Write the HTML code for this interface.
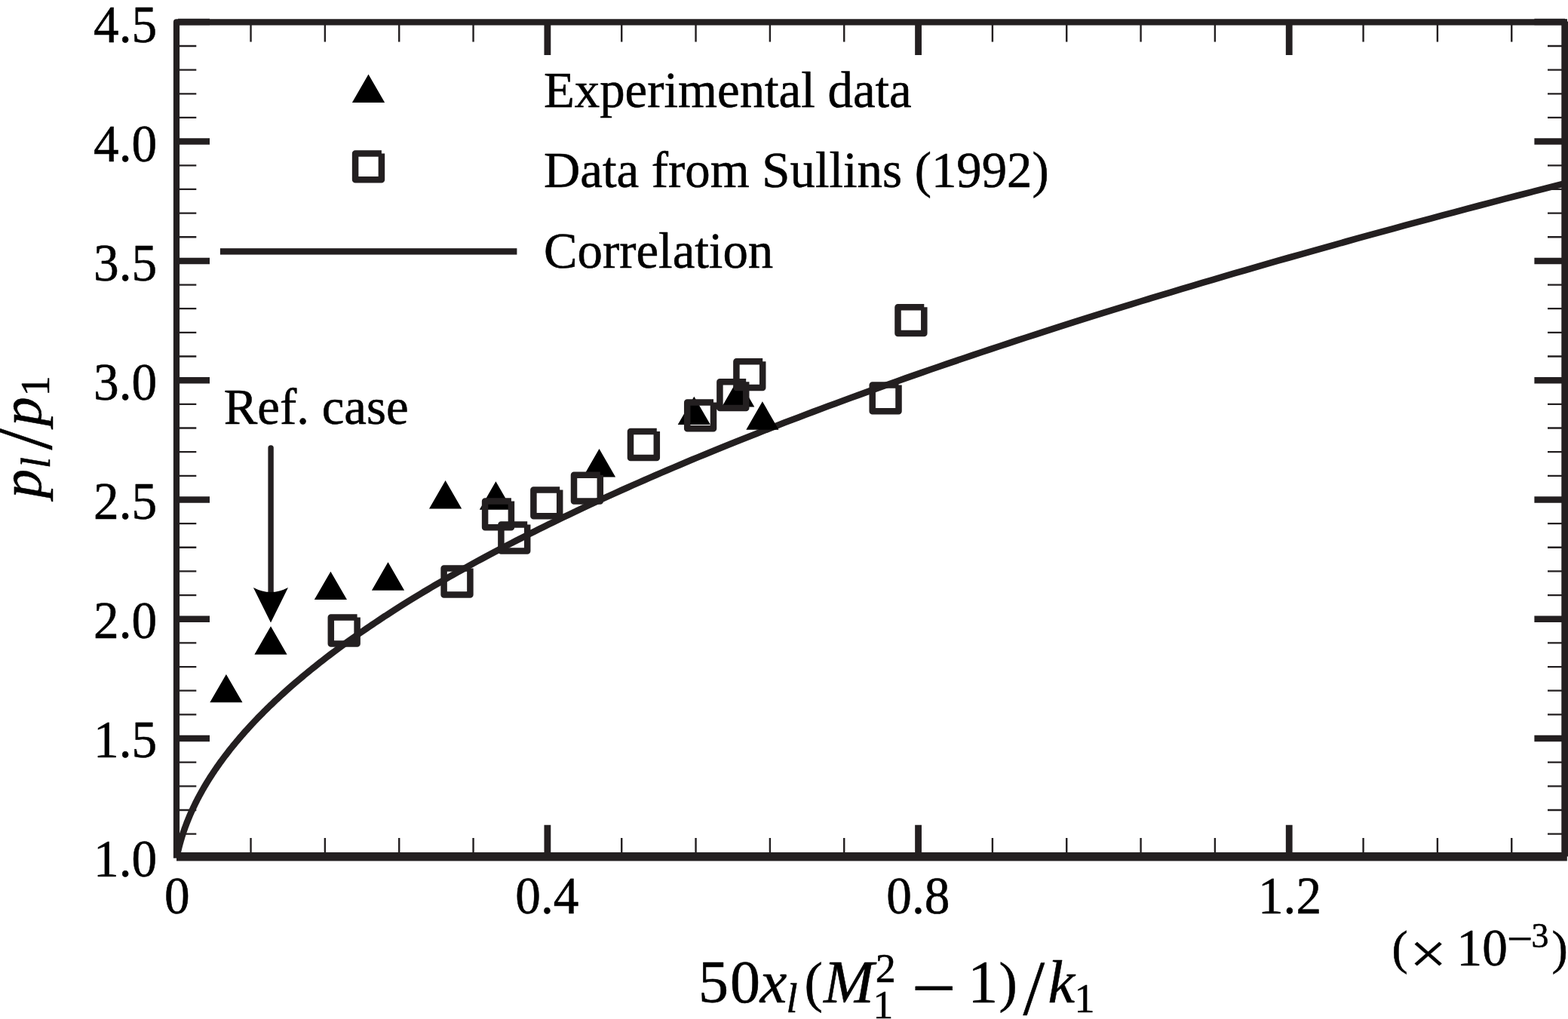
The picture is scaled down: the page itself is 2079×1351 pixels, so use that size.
<!DOCTYPE html>
<html><head><meta charset="utf-8"><title>Correlation plot</title>
<style>html,body{margin:0;padding:0;background:#fff}svg{display:block}</style></head>
<body>
<svg width="2079" height="1351" viewBox="0 0 2079 1351">
<rect width="2079" height="1351" fill="#fff"/>
<g stroke="#231f20" fill="none">
<path stroke-width="2.3" d="M238 1105.64H260.3M238 1073.99H260.3M238 1042.33H260.3M238 1010.68H260.3M238 947.36H260.3M238 915.71H260.3M238 884.05H260.3M238 852.40H260.3M238 789.08H260.3M238 757.43H260.3M238 725.77H260.3M238 694.12H260.3M238 630.80H260.3M238 599.15H260.3M238 567.49H260.3M238 535.84H260.3M238 472.52H260.3M238 440.87H260.3M238 409.21H260.3M238 377.56H260.3M238 314.24H260.3M238 282.59H260.3M238 250.93H260.3M238 219.28H260.3M238 155.96H260.3M238 124.31H260.3M238 92.65H260.3M238 61.00H260.3M2052 1105.64H2072M2052 1073.99H2072M2052 1042.33H2072M2052 1010.68H2072M2052 947.36H2072M2052 915.71H2072M2052 884.05H2072M2052 852.40H2072M2052 789.08H2072M2052 757.43H2072M2052 725.77H2072M2052 694.12H2072M2052 630.80H2072M2052 599.15H2072M2052 567.49H2072M2052 535.84H2072M2052 472.52H2072M2052 440.87H2072M2052 409.21H2072M2052 377.56H2072M2052 314.24H2072M2052 282.59H2072M2052 250.93H2072M2052 219.28H2072M2052 155.96H2072M2052 124.31H2072M2052 92.65H2072M2052 61.00H2072"/>
<path stroke-width="8.5" d="M236 979.02H278M2034.4 979.02H2075M236 820.74H278M2034.4 820.74H2075M236 662.46H278M2034.4 662.46H2075M236 504.18H278M2034.4 504.18H2075M236 345.90H278M2034.4 345.90H2075M236 187.62H278M2034.4 187.62H2075M236 28.89H278M2034.4 28.89H2075"/>
<path stroke-width="2.4" d="M332.54 32V55.5M332.54 1111V1132M430.87 32V55.5M430.87 1111V1132M529.21 32V55.5M529.21 1111V1132M627.54 32V55.5M627.54 1111V1132M824.22 32V55.5M824.22 1111V1132M922.55 32V55.5M922.55 1111V1132M1020.89 32V55.5M1020.89 1111V1132M1119.22 32V55.5M1119.22 1111V1132M1315.90 32V55.5M1315.90 1111V1132M1414.23 32V55.5M1414.23 1111V1132M1512.57 32V55.5M1512.57 1111V1132M1610.90 32V55.5M1610.90 1111V1132M1807.58 32V55.5M1807.58 1111V1132M1905.91 32V55.5M1905.91 1111V1132M2004.25 32V55.5M2004.25 1111V1132"/>
<path stroke-width="8.8" d="M725.88 31V73.1M725.88 1093.7V1133M1217.56 31V73.1M1217.56 1093.7V1133M1709.24 31V73.1M1709.24 1093.7V1133"/>
</g>
<path d="M234 1137.7V29.45H2077.8" fill="none" stroke="#231f20" stroke-width="8.2" stroke-linejoin="round"/>
<path d="M234 1130.1H2077.8V1141.6H234zM2070.3 25.4H2077.8V28.6H2080V1135.5H2077.8V1141.6H2070.3z" fill="#231f20"/>
<clipPath id="pc"><rect x="234" y="29" width="1840" height="1110"/></clipPath>
<path d="M234.20 1137.30 L234.20 1137.29 L234.20 1137.28 L234.21 1137.25 L234.22 1137.21 L234.23 1137.16 L234.24 1137.10 L234.25 1137.03 L234.27 1136.94 L234.29 1136.85 L234.31 1136.74 L234.33 1136.62 L234.36 1136.49 L234.39 1136.35 L234.42 1136.20 L234.45 1136.04 L234.48 1135.87 L234.52 1135.68 L234.56 1135.49 L234.60 1135.28 L234.65 1135.06 L234.69 1134.83 L234.74 1134.59 L234.79 1134.34 L234.85 1134.07 L234.90 1133.80 L234.96 1133.51 L235.03 1133.22 L235.09 1132.91 L235.16 1132.59 L235.23 1132.26 L235.31 1131.92 L235.38 1131.57 L235.46 1131.20 L235.54 1130.83 L235.63 1130.44 L235.72 1130.04 L235.81 1129.63 L235.91 1129.21 L236.00 1128.78 L236.11 1128.34 L236.21 1127.89 L236.32 1127.42 L236.43 1126.95 L236.55 1126.46 L236.67 1125.96 L236.79 1125.45 L236.92 1124.93 L237.05 1124.40 L237.19 1123.86 L237.33 1123.30 L237.47 1122.74 L237.62 1122.16 L237.77 1121.57 L237.93 1120.97 L238.09 1120.36 L238.25 1119.74 L238.42 1119.11 L238.60 1118.46 L238.78 1117.81 L238.96 1117.14 L239.15 1116.47 L239.34 1115.78 L239.54 1115.08 L239.75 1114.37 L239.96 1113.64 L240.18 1112.91 L240.40 1112.17 L240.62 1111.41 L240.86 1110.64 L241.10 1109.86 L241.34 1109.07 L241.59 1108.27 L241.85 1107.46 L242.11 1106.64 L242.38 1105.80 L242.66 1104.96 L242.94 1104.10 L243.23 1103.23 L243.53 1102.36 L243.83 1101.47 L244.15 1100.56 L244.47 1099.65 L244.79 1098.73 L245.13 1097.79 L245.47 1096.85 L245.82 1095.89 L246.17 1094.92 L246.54 1093.94 L246.91 1092.95 L247.29 1091.95 L247.69 1090.93 L248.08 1089.91 L248.49 1088.87 L248.91 1087.83 L249.34 1086.77 L249.77 1085.70 L250.22 1084.62 L250.67 1083.53 L251.13 1082.42 L251.61 1081.31 L252.09 1080.18 L252.59 1079.05 L253.09 1077.90 L253.61 1076.74 L254.13 1075.57 L254.67 1074.39 L255.22 1073.20 L255.77 1071.99 L256.34 1070.78 L256.92 1069.55 L257.52 1068.31 L258.12 1067.06 L258.74 1065.80 L259.37 1064.53 L260.01 1063.25 L260.66 1061.96 L261.33 1060.65 L262.01 1059.34 L262.70 1058.01 L263.41 1056.67 L264.13 1055.32 L264.86 1053.96 L265.61 1052.59 L266.37 1051.21 L267.15 1049.81 L267.94 1048.41 L268.74 1046.99 L269.56 1045.56 L270.39 1044.12 L271.24 1042.67 L272.11 1041.21 L272.99 1039.74 L273.88 1038.26 L274.80 1036.76 L275.73 1035.26 L276.67 1033.74 L277.63 1032.21 L278.61 1030.67 L279.61 1029.12 L280.62 1027.56 L281.65 1025.98 L282.70 1024.40 L283.77 1022.80 L284.85 1021.20 L285.95 1019.58 L287.08 1017.95 L288.22 1016.31 L289.38 1014.66 L290.56 1012.99 L291.75 1011.32 L292.97 1009.63 L294.21 1007.94 L295.47 1006.23 L296.75 1004.51 L298.05 1002.78 L299.37 1001.04 L300.71 999.29 L302.08 997.52 L303.46 995.75 L304.87 993.96 L306.30 992.16 L307.76 990.36 L309.23 988.54 L310.73 986.71 L312.25 984.86 L313.80 983.01 L315.36 981.15 L316.96 979.27 L318.58 977.38 L320.22 975.48 L321.88 973.58 L323.58 971.65 L325.29 969.72 L327.04 967.78 L328.81 965.83 L330.60 963.86 L332.42 961.88 L334.27 959.90 L336.15 957.90 L338.05 955.89 L339.98 953.87 L341.94 951.83 L343.92 949.79 L345.94 947.74 L347.98 945.67 L350.05 943.59 L352.16 941.50 L354.29 939.40 L356.45 937.29 L358.64 935.17 L360.86 933.04 L363.11 930.89 L365.40 928.74 L367.71 926.57 L370.06 924.39 L372.44 922.20 L374.85 920.00 L377.29 917.79 L379.77 915.57 L382.28 913.33 L384.82 911.09 L387.40 908.83 L390.01 906.56 L392.66 904.29 L395.34 902.00 L398.06 899.69 L400.81 897.38 L403.60 895.06 L406.42 892.72 L409.28 890.38 L412.18 888.02 L415.11 885.65 L418.08 883.27 L421.09 880.88 L424.14 878.48 L427.22 876.07 L430.35 873.64 L433.51 871.21 L436.71 868.76 L439.96 866.30 L443.24 863.83 L446.56 861.35 L449.93 858.86 L453.33 856.36 L456.78 853.84 L460.27 851.32 L463.80 848.78 L467.37 846.23 L470.99 843.67 L474.65 841.10 L478.35 838.52 L482.10 835.93 L485.89 833.33 L489.73 830.71 L493.61 828.09 L497.54 825.45 L501.51 822.80 L505.53 820.14 L509.60 817.47 L513.71 814.79 L517.87 812.10 L522.08 809.39 L526.34 806.68 L530.64 803.95 L534.99 801.21 L539.40 798.46 L543.85 795.70 L548.35 792.93 L552.91 790.15 L557.51 787.35 L562.16 784.55 L566.87 781.73 L571.63 778.90 L576.44 776.06 L581.30 773.21 L586.22 770.35 L591.19 767.48 L596.22 764.60 L601.30 761.70 L606.43 758.80 L611.62 755.88 L616.86 752.95 L622.16 750.01 L627.52 747.06 L632.93 744.10 L638.41 741.13 L643.93 738.14 L649.52 735.15 L655.17 732.14 L660.87 729.12 L666.64 726.09 L672.46 723.05 L678.34 720.00 L684.29 716.94 L690.29 713.86 L696.36 710.78 L702.49 707.68 L708.68 704.57 L714.93 701.46 L721.25 698.33 L727.63 695.19 L734.08 692.03 L740.59 688.87 L747.16 685.69 L753.80 682.51 L760.51 679.31 L767.28 676.10 L774.12 672.88 L781.03 669.65 L788.00 666.41 L795.04 663.16 L802.15 659.89 L809.33 656.62 L816.58 653.33 L823.90 650.03 L831.29 646.72 L838.75 643.40 L846.28 640.07 L853.89 636.73 L861.57 633.38 L869.31 630.01 L877.14 626.63 L885.03 623.25 L893.00 619.85 L901.05 616.44 L909.17 613.02 L917.36 609.59 L925.64 606.14 L933.98 602.69 L942.41 599.22 L950.91 595.74 L959.49 592.26 L968.15 588.76 L976.89 585.25 L985.71 581.72 L994.61 578.19 L1003.59 574.65 L1012.65 571.09 L1021.79 567.52 L1031.01 563.95 L1040.32 560.36 L1049.71 556.76 L1059.18 553.15 L1068.73 549.52 L1078.38 545.89 L1088.10 542.24 L1097.91 538.59 L1107.81 534.92 L1117.79 531.24 L1127.87 527.55 L1138.02 523.85 L1148.27 520.14 L1158.61 516.42 L1169.03 512.68 L1179.55 508.93 L1190.15 505.18 L1200.85 501.41 L1211.63 497.63 L1222.51 493.84 L1233.48 490.04 L1244.54 486.22 L1255.70 482.40 L1266.95 478.57 L1278.30 474.72 L1289.74 470.86 L1301.27 466.99 L1312.91 463.11 L1324.63 459.22 L1336.46 455.32 L1348.38 451.40 L1360.41 447.48 L1372.53 443.54 L1384.75 439.59 L1397.07 435.64 L1409.49 431.67 L1422.01 427.69 L1434.63 423.69 L1447.36 419.69 L1460.18 415.68 L1473.12 411.65 L1486.15 407.61 L1499.29 403.56 L1512.53 399.50 L1525.88 395.43 L1539.34 391.35 L1552.90 387.26 L1566.57 383.16 L1580.35 379.04 L1594.24 374.91 L1608.23 370.78 L1622.34 366.63 L1636.55 362.47 L1650.88 358.30 L1665.32 354.11 L1679.86 349.92 L1694.53 345.71 L1709.30 341.50 L1724.19 337.27 L1739.19 333.03 L1754.31 328.78 L1769.54 324.52 L1784.89 320.25 L1800.36 315.97 L1815.94 311.67 L1831.64 307.37 L1847.46 303.05 L1863.40 298.72 L1879.45 294.38 L1895.63 290.03 L1911.93 285.67 L1928.35 281.30 L1944.89 276.91 L1961.56 272.52 L1978.35 268.11 L1995.26 263.69 L2012.30 259.26 L2029.46 254.82 L2046.75 250.37 L2064.16 245.91 L2081.70 241.44" fill="none" stroke="#231f20" stroke-width="8.6" stroke-linejoin="round" clip-path="url(#pc)"/>
<rect x="291.9" y="329.2" width="393.5" height="8.4" fill="#231f20"/>
<path d="M299.90 893.90l-21.60 37.4h43.2zM359.00 830.30l-21.60 37.4h43.2zM438.40 757.70l-21.60 37.4h43.2zM514.50 745.30l-21.60 37.4h43.2zM590.60 637.00l-21.60 37.4h43.2zM657.40 638.30l-21.60 37.4h43.2zM794.50 595.10l-21.60 37.4h43.2zM920.30 525.70l-21.60 37.4h43.2zM978.70 502.00l-21.60 37.4h43.2zM1010.90 532.30l-21.60 37.4h43.2zM488.50 98.50l-21.60 37.4h43.2z" fill="#000"/>
<path d="M473.60 818.60h-34.8v34.8h34.8v-34.8M623.40 753.60h-34.8v34.8h34.8v-34.8M677.90 664.40h-34.8v34.8h34.8v-34.8M699.20 695.60h-34.8v34.8h34.8v-34.8M742.20 649.50h-34.8v34.8h34.8v-34.8M795.80 629.80h-34.8v34.8h34.8v-34.8M870.80 572.10h-34.8v34.8h34.8v-34.8M946.00 533.50h-34.8v34.8h34.8v-34.8M989.20 506.30h-34.8v34.8h34.8v-34.8M1011.20 479.20h-34.8v34.8h34.8v-34.8M1191.50 510.50h-34.8v34.8h34.8v-34.8M1225.30 407.20h-34.8v34.8h34.8v-34.8M505.90 203.40h-34.8v34.8h34.8v-34.8" fill="none" stroke="#231f20" stroke-width="8.5" stroke-linejoin="round"/>
<path d="M359.1 594V790" stroke="#231f20" stroke-width="7.4" stroke-linecap="round" fill="none"/>
<path d="M335.9 779.1Q359 791.1 382 779.1L359 825.5Z" fill="#000"/>
<g font-family="Liberation Serif, Times New Roman, serif" fill="#000" stroke="#000" stroke-width="0.55" stroke-linejoin="round">
<g font-size="69" text-anchor="end">
<text transform="translate(208.1 56.1) scale(0.975 1)">4.5</text>
<text transform="translate(208.1 214.0) scale(0.975 1)">4.0</text>
<text transform="translate(208.1 372.0) scale(0.975 1)">3.5</text>
<text transform="translate(208.1 529.9) scale(0.975 1)">3.0</text>
<text transform="translate(208.1 687.8) scale(0.975 1)">2.5</text>
<text transform="translate(208.1 845.8) scale(0.975 1)">2.0</text>
<text transform="translate(208.1 1003.7) scale(0.975 1)">1.5</text>
<text transform="translate(208.1 1161.6) scale(0.975 1)">1.0</text>
</g>
<g font-size="69" text-anchor="middle">
<text transform="translate(234.9 1211.2) scale(0.975 1)">0</text>
<text transform="translate(725.3 1211.2) scale(0.975 1)">0.4</text>
<text transform="translate(1217.3 1211.2) scale(0.975 1)">0.8</text>
<text transform="translate(1710 1211.2) scale(0.975 1)">1.2</text>
</g>
<g font-size="66.8">
<text x="721" y="142.3">Experimental data</text>
<text x="721" y="247.5">Data from Sullins (1992)</text>
<text x="721" y="355">Correlation</text>
<text x="296.8" y="562.3">Ref. case</text>
</g>
<text font-size="63.8" x="1845.6" y="1277.8">(</text>
<text font-size="88" transform="translate(1869 1289.6) scale(0.99 0.87)">×</text>
<text font-size="69" transform="translate(1931.6 1280.2) scale(0.975 1)">10</text>
<text font-size="46" transform="translate(1998.1 1262.7) scale(1.31 1.2)">−</text>
<text font-size="46" x="2030.4" y="1256">3</text>
<text font-size="63.8" x="2057.4" y="1277.8">)</text>
<text font-size="80"><tspan x="926" y="1329.3">5</tspan><tspan x="968" y="1329.3">0</tspan><tspan font-style="italic" x="1007.7" y="1329.3">x</tspan><tspan font-style="italic" font-size="54" x="1042.6" y="1341.7">l</tspan><tspan font-size="73" x="1066.5" y="1327.3">(</tspan><tspan font-style="italic" x="1092" y="1329.3">M</tspan><tspan font-size="54" x="1160.8" y="1301.6">2</tspan><tspan font-size="53.5" x="1157.6" y="1350.3">1</tspan><tspan x="1283.3" y="1329.3">1</tspan><tspan font-size="73" x="1324.6" y="1327.3">)</tspan><tspan font-size="103" x="1356.5" y="1344.6">/</tspan><tspan font-style="italic" x="1389.6" y="1329.3">k</tspan><tspan font-size="54" x="1424.5" y="1341.6">1</tspan></text>
<text font-size="80" transform="translate(1208.4 1342.1) scale(1.31 1.2)">−</text>
<text font-size="77" transform="translate(54.1 0) rotate(-90)"><tspan font-style="italic" x="-660.4" y="0">p</tspan><tspan font-style="italic" font-size="54" x="-620.9" y="11.7">l</tspan><tspan font-size="103" x="-596.6" y="14.1">/</tspan><tspan font-style="italic" x="-564.7" y="0">p</tspan><tspan font-size="54" x="-525.2" y="11.3">1</tspan></text>
</g>
</svg>
</body></html>
